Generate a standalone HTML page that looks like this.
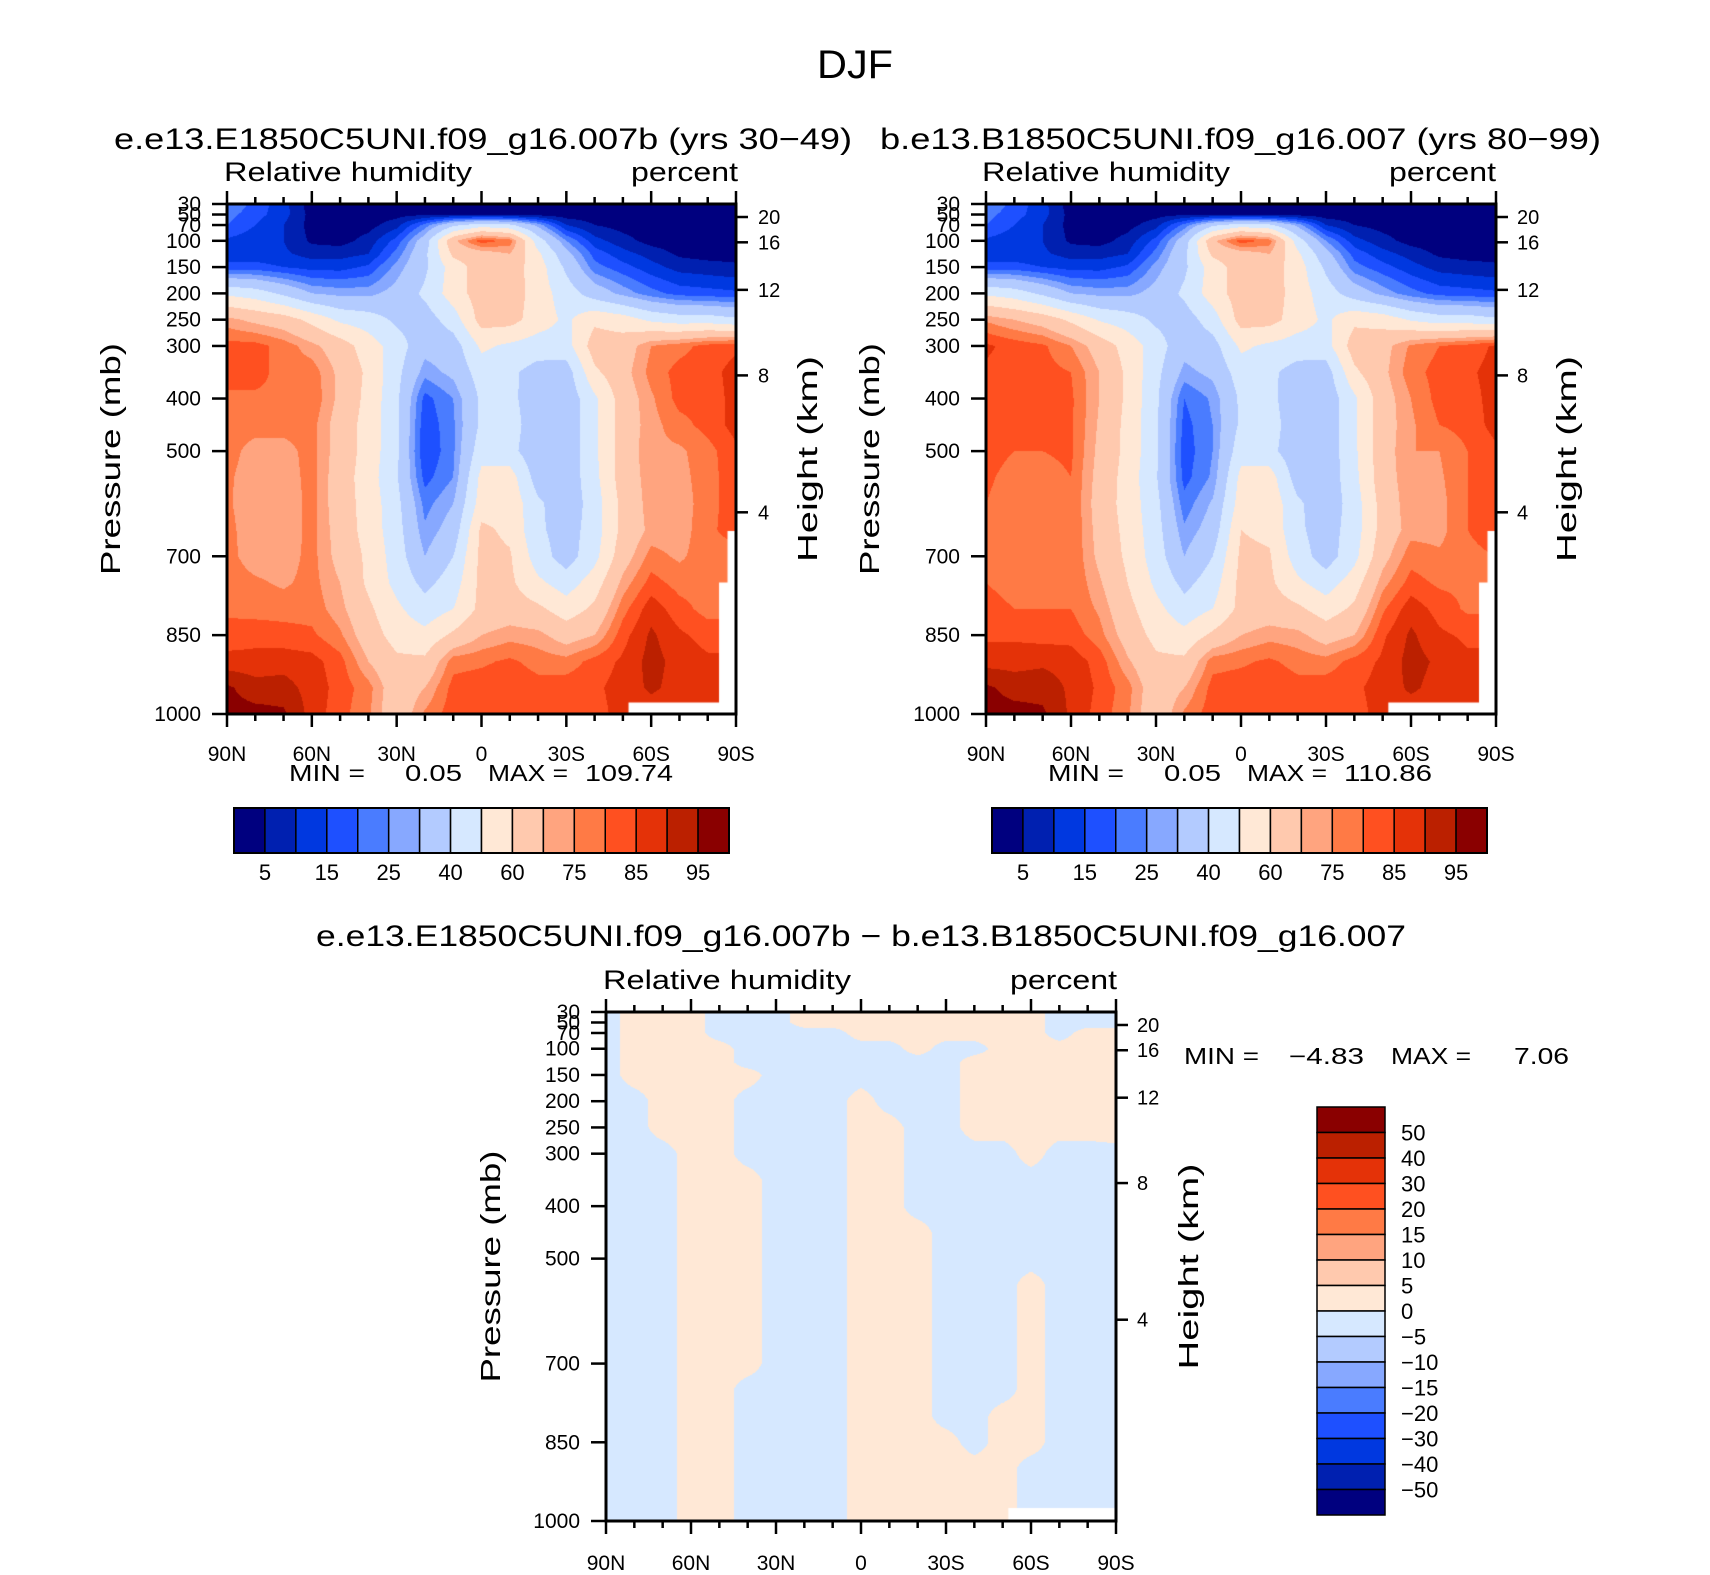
<!DOCTYPE html>
<html><head><meta charset="utf-8"><title>DJF Relative humidity</title>
<style>
html,body{margin:0;padding:0;background:#fff;}
#wrap{position:relative;width:1710px;height:1575px;overflow:hidden;background:#fff;}
canvas{position:absolute;}
svg{position:absolute;left:0;top:0;}
text{font-family:"Liberation Sans",sans-serif;fill:#000;}
</style></head>
<body>
<div id="wrap">
<canvas id="c1" width="509" height="510" style="left:227px;top:204px"></canvas>
<canvas id="c2" width="510" height="510" style="left:986px;top:204px"></canvas>
<canvas id="c3" width="510" height="509" style="left:606px;top:1012px"></canvas>
<svg id="svg" width="1710" height="1575">
<text x="855" y="78" font-size="40" text-anchor="middle" textLength="76" lengthAdjust="spacingAndGlyphs">DJF</text>
<text x="114" y="149" font-size="30" textLength="738" lengthAdjust="spacingAndGlyphs">e.e13.E1850C5UNI.f09_g16.007b (yrs 30−49)</text>
<text x="880" y="149" font-size="30" textLength="721" lengthAdjust="spacingAndGlyphs">b.e13.B1850C5UNI.f09_g16.007 (yrs 80−99)</text>
<text x="316" y="946" font-size="30" textLength="1090" lengthAdjust="spacingAndGlyphs">e.e13.E1850C5UNI.f09_g16.007b − b.e13.B1850C5UNI.f09_g16.007</text>
<text x="289" y="781" font-size="23" textLength="76" lengthAdjust="spacingAndGlyphs">MIN =</text>
<text x="405" y="781" font-size="23" textLength="57" lengthAdjust="spacingAndGlyphs">0.05</text>
<text x="488" y="781" font-size="23" textLength="80" lengthAdjust="spacingAndGlyphs">MAX =</text>
<text x="585" y="781" font-size="23" textLength="88" lengthAdjust="spacingAndGlyphs">109.74</text>
<text x="1048" y="781" font-size="23" textLength="76" lengthAdjust="spacingAndGlyphs">MIN =</text>
<text x="1164" y="781" font-size="23" textLength="57" lengthAdjust="spacingAndGlyphs">0.05</text>
<text x="1247" y="781" font-size="23" textLength="80" lengthAdjust="spacingAndGlyphs">MAX =</text>
<text x="1344" y="781" font-size="23" textLength="88" lengthAdjust="spacingAndGlyphs">110.86</text>
<text x="1184" y="1064" font-size="23" textLength="75" lengthAdjust="spacingAndGlyphs">MIN =</text>
<text x="1289" y="1064" font-size="23" textLength="75" lengthAdjust="spacingAndGlyphs">−4.83</text>
<text x="1391" y="1064" font-size="23" textLength="80" lengthAdjust="spacingAndGlyphs">MAX =</text>
<text x="1514" y="1064" font-size="23" textLength="55" lengthAdjust="spacingAndGlyphs">7.06</text>
</svg>
</div>
<script>
// ---- data ----
const lats = [90,80,70,60,50,40,30,20,10,0,-10,-20,-30,-40,-50,-60,-70,-80,-90];
const pLevels = [30,50,70,100,125,150,200,250,300,350,400,450,500,550,600,650,700,750,800,850,900,950,1000];
const rhLevels = [5,10,15,20,25,30,40,50,60,70,75,80,85,90,95];
const rhLabels = ["5","","15","","25","","40","","60","","75","","85","","95"];
const diffLevels = [-50,-40,-30,-20,-15,-10,-5,0,5,10,15,20,30,40,50];
const diffLabels = ["−50","−40","−30","−20","−15","−10","−5","0","5","10","15","20","30","40","50"];
const pTicks = [30,50,70,100,150,200,250,300,400,500,700,850,1000];
const heightTicks = [20,16,12,8,4];
const latTicks = [90,60,30,0,-30,-60,-90];
const latTickLabels = ["90N","60N","30N","0","30S","60S","90S"];
const palette = ["#00007f","#0020b0","#0038e0","#1e50ff","#4a7cff","#87a8ff","#b3cbff","#d6e8ff",
 "#ffe8d6","#ffc9ae","#ffa47f","#ff7a45","#ff5020","#e43208","#bb2000","#8a0000"];

const rh1 = [
[25,18,12,2,2,2,2,2,2,2,2,2,2,2,2,2,2,2,2],
[22,17,12,3,2,2,3,4,4,4,4,3,2,2,2,2,2,2,2],
[20,15,10,3,2,3,8,22,38,45,42,28,10,5,3,2,2,2,2],
[14,12,10,4,3,7,17,35,68,83,78,45,25,12,7,3,2,2,2],
[12,12,11,8,8,10,22,38,62,66,70,52,33,18,12,8,4,3,3],
[17,17,15,13,13,16,27,38,55,65,65,55,38,22,17,12,8,7,6],
[48,45,38,30,28,28,33,42,55,65,66,55,45,35,28,22,18,17,16],
[72,68,65,57,48,45,38,35,45,64,64,55,48,58,55,48,45,45,42],
[82,82,78,72,65,55,45,33,35,52,48,45,46,65,65,75,78,82,84],
[82,82,78,78,68,58,43,27,32,45,42,36,35,58,67,77,82,83,87],
[79,79,79,79,68,57,42,18,25,42,43,33,33,48,65,74,82,82,87],
[77,77,77,77,66,56,42,16,24,42,45,33,33,48,65,73,78,82,87],
[77,73,73,77,66,56,42,15,24,46,43,33,33,48,65,74,74,78,84],
[76,72,72,77,65,55,41,18,25,53,55,35,33,47,65,73,73,78,83],
[76,71,71,77,65,56,43,23,30,55,57,42,33,45,63,73,72,78,83],
[77,71,71,77,66,56,44,26,34,62,58,42,35,45,63,72,72,79,82],
[77,72,72,77,67,58,45,30,40,63,61,45,35,47,66,77,74,78,78],
[78,76,74,77,70,58,47,37,45,63,62,52,45,55,72,82,78,78,78],
[79,78,78,78,72,62,52,44,50,63,65,62,55,62,78,88,82,78,78],
[82,83,82,81,76,65,56,53,62,70,73,72,66,70,83,91,86,83,83],
[87,87,88,87,82,70,62,62,78,79,81,78,77,82,86,92,88,86,86],
[96,92,92,88,83,77,64,70,82,83,84,82,83,84,87,91,88,87,87],
[97,97,96,88,82,76,63,76,83,84,83,83,83,83,87,87,87,87,87]];

const rh2 = [
[25,18,12,2,2,2,2,2,2,2,2,2,2,2,2,2,2,2,2],
[22,17,12,3,2,2,3,4,4,4,4,3,2,2,2,2,2,2,2],
[20,15,10,3,2,3,8,22,38,45,42,28,10,5,3,2,2,2,2],
[14,12,10,4,3,7,17,35,68,83,78,45,25,12,7,3,2,2,2],
[12,12,11,8,8,10,22,38,62,66,70,52,33,18,12,8,4,3,3],
[17,17,15,13,13,16,27,38,55,65,65,55,38,22,17,12,8,7,6],
[48,45,38,30,28,28,33,42,55,65,66,55,45,35,28,22,18,17,16],
[74,70,66,58,49,45,38,35,45,64,64,55,48,58,56,49,45,45,42],
[86,83,81,75,66,56,45,33,36,52,48,45,46,65,67,76,80,82,86],
[84,83,82,80,70,58,43,28,32,45,42,36,35,58,68,78,82,84,87],
[83,82,82,81,70,58,42,20,26,42,43,33,33,48,66,75,82,83,87],
[82,81,81,81,69,57,42,18,25,42,45,33,33,48,66,74,80,82,87],
[82,80,80,81,68,57,42,17,25,46,43,33,33,48,66,75,75,80,84],
[81,78,78,80,67,56,41,18,26,53,55,35,33,47,66,74,74,80,83],
[80,77,78,80,66,56,43,22,31,55,57,42,33,45,64,74,73,80,83],
[80,78,78,80,67,57,44,26,34,60,58,42,35,45,64,73,73,80,82],
[80,78,78,80,68,58,45,30,40,62,61,45,35,47,67,78,76,79,80],
[80,79,78,80,71,60,48,37,45,63,62,52,45,55,73,82,79,79,80],
[81,80,80,80,74,63,53,44,50,63,65,62,55,62,79,88,83,79,79],
[84,84,83,83,77,66,57,53,62,70,73,72,66,70,84,91,86,84,84],
[88,88,89,88,83,71,62,62,78,79,81,78,77,82,86,92,89,86,86],
[96,93,93,89,84,77,64,70,82,83,84,82,83,84,87,91,88,87,87],
[97,97,96,89,83,76,63,76,83,84,83,83,83,83,87,87,87,87,87]];

const rhDiff = [
[-2,2,2,2,-2,-2,-2,2,2,2,2,2,2,2,2,2,-2,-2,-2],
[-2,2,2,2,-2,-2,-2,2,2,2,2,2,2,2,2,2,-2,-2,-2],
[-2,2,2,2,-2,-2,-2,-2,-2,2,2,2,2,2,2,2,-2,2,2],
[-2,2,2,2,2,-2,-2,-2,-2,-2,-2,2,-2,-2,2,2,2,2,2],
[-2,2,2,2,2,-2,-2,-2,-2,-2,-2,-2,-2,2,2,2,2,2,2],
[-2,2,2,2,2,2,-2,-2,-2,-2,-2,-2,-2,2,2,2,2,2,2],
[-2,-2,2,2,2,-2,-2,-2,-2,2,-2,-2,-2,2,2,2,2,2,2],
[-2,-2,2,2,2,-2,-2,-2,-2,2,2,-2,-2,2,2,2,2,2,3],
[-2,-2,-2,2,2,-2,-2,-2,-2,2,2,-2,-2,-2,-2,2,-2,-2,-2],
[-2,-2,-2,2,2,2,-2,-2,-2,2,2,-2,-2,-2,-2,-2,-2,-2,-2],
[-2,-2,-2,2,2,2,-2,-2,-2,2,2,-2,-2,-2,-2,-2,-2,-2,-2],
[-2,-2,-2,2,2,2,-2,-2,-2,2,2,2,-2,-2,-2,-2,-2,-2,-2],
[-2,-2,-2,2,2,2,-2,-2,-2,2,2,2,-2,-2,-2,-2,-2,-2,-2],
[-2,-2,-2,2,2,2,-2,-2,-2,2,2,2,-2,-2,-2,2,-2,-2,-2],
[-2,-2,-2,2,2,2,-2,-2,-2,2,2,2,-2,-2,-2,2,-2,-2,-2],
[-2,-2,-2,2,2,2,-2,-2,-2,2,2,2,-2,-2,-2,2,-2,-2,-2],
[-2,-2,-2,2,2,2,-2,-2,-2,2,2,2,-2,-2,-2,2,-2,-2,-2],
[-2,-2,-2,2,2,-2,-2,-2,-2,2,2,2,-2,-2,-2,2,-2,-2,-2],
[-2,-2,-2,2,2,-2,-2,-2,-2,2,2,2,-2,-2,2,2,-2,-2,-2],
[-2,-2,-2,2,2,-2,-2,-2,-2,2,2,2,2,-2,2,2,-2,-2,-2],
[-2,-2,-2,2,2,-2,-2,-2,-2,2,2,2,2,2,2,-2,-2,-2,-2],
[-2,-2,-2,2,2,-2,-2,-2,-2,2,2,2,2,2,2,-2,-2,-2,-2],
[-2,-2,-2,2,2,-2,-2,-2,-2,2,2,2,2,2,2,-2,-2,-2,-2]];

const mask12 = [[-52,1000],[-52,978],[-84,978],[-84,750],[-87,750],[-87,652],[-90,652],[-90,1000]];
const mask3 = [[-52,1000],[-52,975],[-90,975],[-90,1000]];

// ---- helpers ----
const NS='http://www.w3.org/2000/svg';
const svg=document.getElementById('svg');
function mk(tag,attrs){const e=document.createElementNS(NS,tag);for(const k in attrs)e.setAttribute(k,attrs[k]);svg.appendChild(e);return e;}
function hex(c){return [parseInt(c.substr(1,2),16),parseInt(c.substr(3,2),16),parseInt(c.substr(5,2),16)];}
const palRGB=palette.map(hex);
function levelIndex(v,levels){let i=0;while(i<levels.length&&v>=levels[i])i++;return i;}
function heightToP(z){ if(z<=11) return 1013.25*Math.pow(1-2.25577e-5*z*1000,5.25588); return 226.32*Math.exp(-(z*1000-11000)/6341.6);}

function makeAxes(px,py,w,h){
  return {x:lat=>px+(90-lat)/180*w, y:p=>py+(p-30)/970*h, px,py,w,h};
}
function sample(grid,lat,p){
  let fi=(90-lat)/10; if(fi<0)fi=0; if(fi>18)fi=18;
  let i0=Math.min(17,Math.floor(fi)), tx=fi-i0;
  let k=0; while(k<pLevels.length-2&&p>pLevels[k+1])k++;
  let ty=(p-pLevels[k])/(pLevels[k+1]-pLevels[k]); ty=Math.max(0,Math.min(1,ty));
  const a=grid[k][i0],b=grid[k][i0+1],c=grid[k+1][i0],d=grid[k+1][i0+1];
  return (a*(1-tx)+b*tx)*(1-ty)+(c*(1-tx)+d*tx)*ty;
}
function drawField(cid,grid,levels,mask){
  const cv=document.getElementById(cid),ctx=cv.getContext('2d');
  const W=cv.width,H=cv.height,img=ctx.createImageData(W,H);
  for(let yy=0;yy<H;yy++){const p=30+970*(yy+0.5)/H;
    for(let xx=0;xx<W;xx++){const lat=90-180*(xx+0.5)/W;
      const v=sample(grid,lat,p);const c=palRGB[levelIndex(v,levels)];
      const o=(yy*W+xx)*4;img.data[o]=c[0];img.data[o+1]=c[1];img.data[o+2]=c[2];img.data[o+3]=255;}}
  ctx.putImageData(img,0,0);
  ctx.fillStyle='#fff';ctx.beginPath();
  mask.forEach((m,i)=>{const X=(90-m[0])/180*W,Y=(m[1]-30)/970*H;if(i)ctx.lineTo(X,Y);else ctx.moveTo(X,Y);});
  ctx.closePath();ctx.fill();
}

function drawPanel(ax,pre,rhX,pctX,pctRight,presX,presTitleX,hX,hTitleX,xlabY){
  const fr=mk('rect',{x:ax.px,y:ax.py,width:ax.w,height:ax.h,fill:'none',stroke:'#000','stroke-width':3});
  
  
  for(let lat=90;lat>=-90;lat-=10){
    const major=lat%30===0, x=ax.x(lat), L=major?13:7;
    const t1=mk('line',{x1:x,y1:ax.py+ax.h,x2:x,y2:ax.py+ax.h+L,stroke:'#000','stroke-width':2.5});
    
    
    const t2=mk('line',{x1:x,y1:ax.py,x2:x,y2:ax.py-L,stroke:'#000','stroke-width':2.5});
    
    
  }
  latTicks.forEach((lat,i)=>{
    const t=mk('text',{x:ax.x(lat),y:xlabY,'font-size':21,'text-anchor':'middle'});
    t.textContent=latTickLabels[i];
    
    
  });
  pTicks.forEach(p=>{
    const y=ax.y(p);
    const l=mk('line',{x1:ax.px-15,y1:y,x2:ax.px,y2:y,stroke:'#000','stroke-width':2.5});
    
    
    const t=mk('text',{x:presX,y:y+7,'font-size':21,'text-anchor':'end'});
    t.textContent=String(p);
    
    
  });
  heightTicks.forEach(z=>{
    const y=ax.y(heightToP(z)), xr=ax.px+ax.w;
    const l=mk('line',{x1:xr,y1:y,x2:xr+12,y2:y,stroke:'#000','stroke-width':2.5});
    
    
    const t=mk('text',{x:hX,y:y+7,'font-size':20});
    t.textContent=String(z);
    
    
  });
  const cy=ax.py+ax.h/2;
  const pt=mk('text',{x:presTitleX,y:cy,'font-size':28,'text-anchor':'middle',transform:`rotate(-90 ${presTitleX} ${cy})`,textLength:232,lengthAdjust:'spacingAndGlyphs'});
  pt.textContent='Pressure (mb)';
  
  
  const ht=mk('text',{x:hTitleX,y:cy,'font-size':28,'text-anchor':'middle',transform:`rotate(-90 ${hTitleX} ${cy})`,textLength:206,lengthAdjust:'spacingAndGlyphs'});
  ht.textContent='Height (km)';
  
  
  const r=mk('text',{x:rhX,y:ax.py-23,'font-size':27,textLength:248,lengthAdjust:'spacingAndGlyphs'});
  r.textContent='Relative humidity';
  
  
  const pc=mk('text',{x:pctX,y:ax.py-23,'font-size':27,textLength:pctRight-pctX,lengthAdjust:'spacingAndGlyphs'});
  pc.textContent='percent';
  
  
}

function hColorbar(pre,x0,y0,w,h){
  const bw=w/16;
  for(let i=0;i<16;i++){
    const r=mk('rect',{x:x0+i*bw,y:y0,width:bw,height:h,fill:palette[i],stroke:'#000','stroke-width':1.5});
    
    
  }
  const f=mk('rect',{x:x0,y:y0,width:w,height:h,fill:'none',stroke:'#000','stroke-width':2});
  
  
  rhLevels.forEach((lv,i)=>{
    if(!rhLabels[i])return;
    const t=mk('text',{x:x0+(i+1)*bw,y:y0+h+27,'font-size':22,'text-anchor':'middle'});
    t.textContent=rhLabels[i];
    
    
  });
}
function vColorbar(x0,y0,w,h){
  const bh=h/16;
  for(let i=0;i<16;i++){
    const r=mk('rect',{x:x0,y:y0+i*bh,width:w,height:bh,fill:palette[15-i],stroke:'#000','stroke-width':1.5});
    
    
  }
  diffLevels.slice().reverse().forEach((lv,i)=>{
    const t=mk('text',{x:x0+w+16,y:y0+(i+1)*bh+8,'font-size':22});
    t.textContent=diffLabels[diffLabels.length-1-i];
    
    
  });
}

drawField('c1',rh1,rhLevels,mask12);
drawField('c2',rh2,rhLevels,mask12);
drawField('c3',rhDiff,diffLevels,mask3);

drawPanel(makeAxes(227,204,509,510),'panel1',224,631,738,201,120,758,817,761);
drawPanel(makeAxes(986,204,510,510),'panel2',982,1389,1496,960,879,1517,1576,761);
drawPanel(makeAxes(606,1012,510,509),'diff',603,1010,1117,580,500,1137,1198,1570);
hColorbar('panel1',234,808,495,45);
hColorbar('panel2',992,808,495,45);
vColorbar(1317,1107,68,408);
</script>
</body></html>
